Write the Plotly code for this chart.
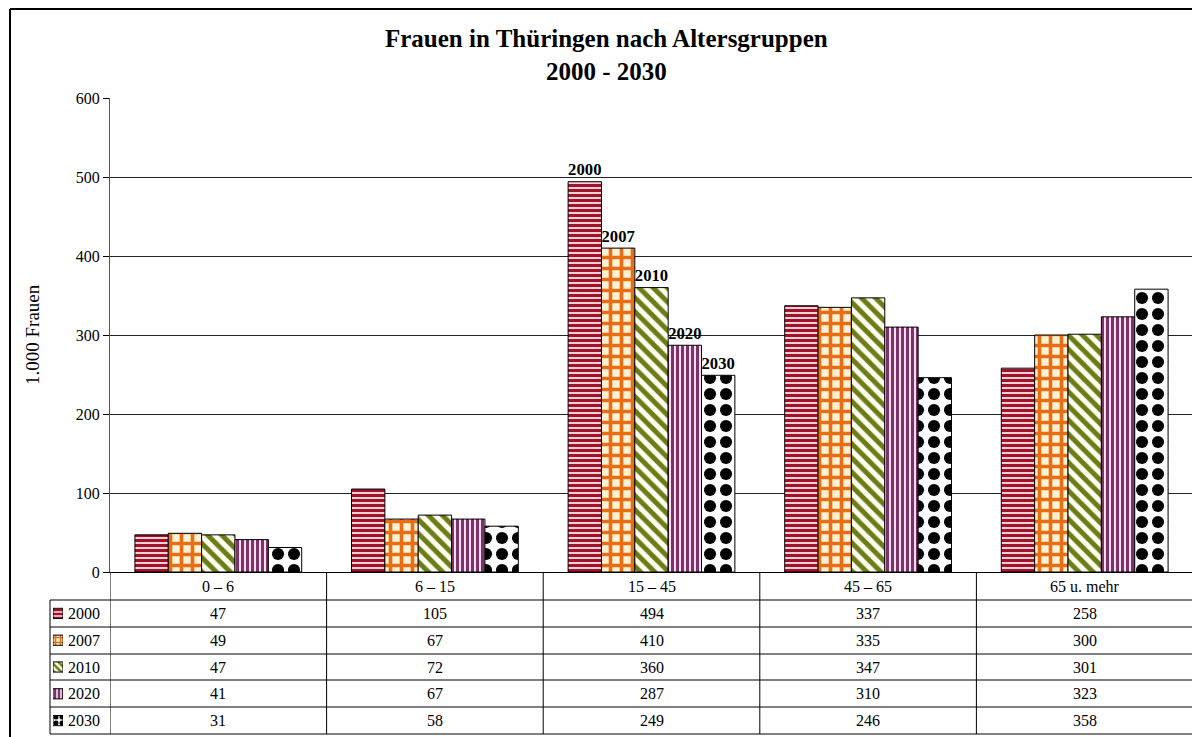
import plotly.graph_objects as go

# ---------------- data ----------------
categories = ["0 – 6", "6 – 15", "15 – 45", "45 – 65", "65 u. mehr"]
years = ["2000", "2007", "2010", "2020", "2030"]
v2000 = [47, 105, 494, 337, 258]
v2007 = [49, 67, 410, 335, 300]
v2010 = [47, 72, 360, 347, 301]
v2020 = [41, 67, 287, 310, 323]
v2030 = [31, 58, 249, 246, 358]
series = [v2000, v2007, v2010, v2020, v2030]
label_category = "15 – 45"   # only this group carries year labels
y_ticks = [0, 100, 200, 300, 400, 500, 600]

# ---------------- styles ----------------
patterns = [
    dict(shape="-", fgcolor="#A0142B", bgcolor="#F9D0D6", size=5, solidity=0.6, fgopacity=1),
    dict(shape="+", fgcolor="#E86E16", bgcolor="#FFF2D4", size=11, solidity=0.55, fgopacity=1),
    dict(shape="\\", fgcolor="#6B7C18", bgcolor="#FFFFF0", size=10, solidity=0.5, fgopacity=1),
    dict(shape="|", fgcolor="#7C3468", bgcolor="#F6DDF2", size=5, solidity=0.6, fgopacity=1),
    dict(shape=".", fgcolor="#000000", bgcolor="#FFFFFF", size=16, solidity=0.45, fgopacity=1),
]

W, H = 1200, 737
FONT = "Liberation Serif"
OFF = 8  # page body margin: figure is drawn 8px right/down of the window corner


def px(x):
    return (x - OFF) / W


def py(y):
    return 1 - (y - OFF) / H


PLOT_L, PLOT_R, PLOT_T, PLOT_B = 110, 1193, 98, 572
LEG_L = 50
row_edges = [600, 627, 654, 680, 707, 734]

fig = go.Figure()

for yr, vals, pat in zip(years, series, patterns):
    texts = [f"<b>{yr}</b>" if c == label_category else "" for c in categories]
    fig.add_trace(go.Bar(
        x=categories, y=vals, name=yr,
        marker=dict(pattern=pat, line=dict(color="black", width=1)),
        text=texts, textposition="outside", cliponaxis=False,
        textfont=dict(family=FONT, size=20, color="black"),
        showlegend=False, xaxis="x", yaxis="y",
    ))

# legend swatches drawn as tiny bars on their own axis inside the table's first column
fig.add_trace(go.Bar(
    x=[1] * len(years), y=years, orientation="h",
    width=0.38,
    marker=dict(
        pattern=dict(
            shape=[p["shape"] for p in patterns],
            fgcolor=[p["fgcolor"] for p in patterns],
            bgcolor=[p["bgcolor"] for p in patterns],
            size=[4, 5, 5, 4, 6],
            solidity=[0.6, 0.55, 0.5, 0.6, 0.55],
            fgopacity=1,
        ),
        line=dict(color="black", width=1),
    ),
    showlegend=False, hoverinfo="skip", xaxis="x2", yaxis="y2",
))

layout_shapes = []
annotations = []

# outer border (left + top visible)
layout_shapes.append(dict(type="line", xref="paper", yref="paper",
                          x0=px(10), x1=px(10), y0=py(9), y1=py(737 + OFF),
                          line=dict(color="black", width=2)))
layout_shapes.append(dict(type="line", xref="paper", yref="paper",
                          x0=px(10), x1=px(1200 + OFF), y0=py(9), y1=py(9),
                          line=dict(color="black", width=2)))
# plot area right border
layout_shapes.append(dict(type="line", xref="paper", yref="paper",
                          x0=px(PLOT_R), x1=px(PLOT_R), y0=py(PLOT_T), y1=py(PLOT_B),
                          line=dict(color="#9a9a9a", width=1)))

# table horizontal lines
for ry in row_edges:
    layout_shapes.append(dict(type="line", xref="paper", yref="paper",
                              x0=px(LEG_L), x1=px(PLOT_R), y0=py(ry), y1=py(ry),
                              line=dict(color="black", width=1)))
# table vertical lines: category boundaries
for k in range(len(categories) + 1):
    layout_shapes.append(dict(type="line", xref="x", yref="paper",
                              x0=k - 0.5, x1=k - 0.5, y0=py(PLOT_B), y1=py(row_edges[-1]),
                              line=dict(color="black", width=1)))
layout_shapes.append(dict(type="line", xref="paper", yref="paper",
                          x0=px(LEG_L), x1=px(LEG_L), y0=py(row_edges[0]), y1=py(row_edges[-1]),
                          line=dict(color="black", width=1)))

TF = dict(family=FONT, size=16, color="black")
# category header row
for c in categories:
    annotations.append(dict(x=c, y=py((PLOT_B + row_edges[0]) / 2), xref="x", yref="paper",
                            text=c, showarrow=False, xanchor="center", yanchor="middle",
                            font=TF))
# value rows
for r, (yr, vals) in enumerate(zip(years, series)):
    yc = py((row_edges[r] + row_edges[r + 1]) / 2)
    annotations.append(dict(x=px(66), y=yc, xref="paper", yref="paper", text=yr,
                            showarrow=False, xanchor="left", yanchor="middle",
                            font=TF))
    for c, v in zip(categories, vals):
        annotations.append(dict(x=c, y=yc, xref="x", yref="paper", text=str(v),
                                showarrow=False, xanchor="center", yanchor="middle",
                                font=TF))

# title
annotations.append(dict(x=px(606), y=py(55), xref="paper", yref="paper",
                        text="<b>Frauen in Thüringen nach Altersgruppen</b><br><b>2000 - 2030</b>",
                        showarrow=False, xanchor="center", yanchor="middle", align="center",
                        font=dict(family=FONT, size=25, color="black")))
# y axis title
annotations.append(dict(x=px(32), y=py(335), xref="paper", yref="paper",
                        text="1.000 Frauen", showarrow=False, textangle=-90,
                        xanchor="center", yanchor="middle",
                        font=dict(family=FONT, size=19, color="black")))

fig.update_layout(
    template="none",
    width=W, height=H, autosize=False,
    margin=dict(l=0, r=0, t=0, b=0, pad=0, autoexpand=False),
    paper_bgcolor="white", plot_bgcolor="white",
    barmode="group", bargap=0.23, bargroupgap=0,
    font=dict(family=FONT, color="black"),
    hovermode=False,
    xaxis=dict(domain=[px(PLOT_L), px(PLOT_R)], type="category",
               categoryorder="array", categoryarray=categories,
               range=[-0.5, len(categories) - 0.5], automargin=False,
               showticklabels=False, ticks="", showgrid=False,
               showline=True, linecolor="black", linewidth=1, zeroline=False,
               layer="above traces", fixedrange=True),
    yaxis=dict(domain=[py(PLOT_B), py(PLOT_T)], range=[0, 600], automargin=False,
               tickvals=y_ticks, ticks="outside", ticklen=6, tickcolor="black",
               tickfont=dict(family=FONT, size=16, color="black"),
               showgrid=True, gridcolor="#222222", gridwidth=1,
               showline=True, linecolor="#555555", linewidth=1, zeroline=False,
               fixedrange=True),
    xaxis2=dict(domain=[px(53), px(63)], range=[0, 1], visible=False,
                automargin=False, fixedrange=True),
    yaxis2=dict(domain=[py(row_edges[-1]), py(row_edges[0])], type="category",
                categoryorder="array", categoryarray=years, automargin=False,
                range=[len(years) - 0.5, -0.5], visible=False, fixedrange=True),
    shapes=layout_shapes,
    annotations=annotations,
)
fig.write_html("out.html")
